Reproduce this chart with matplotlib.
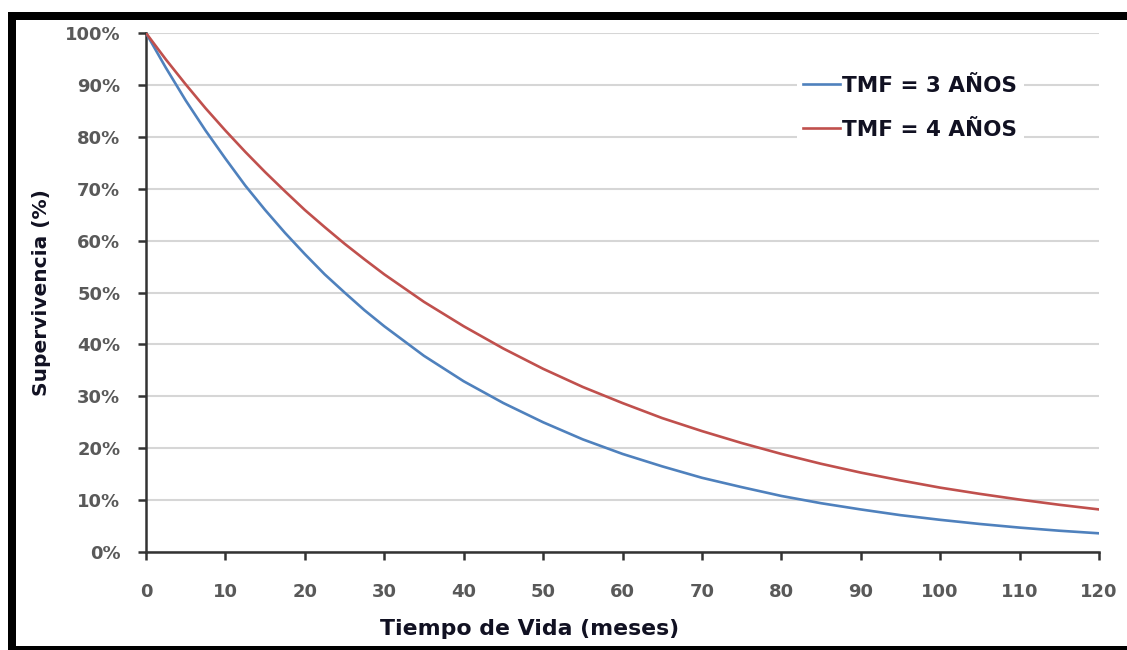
import matplotlib
matplotlib.use("Agg")
import matplotlib.pyplot as plt
from matplotlib.patches import Rectangle
from matplotlib.ticker import FuncFormatter

# months and survival (%)
months = [0, 2.5, 5, 7.5, 10, 12.5, 15, 17.5, 20, 22.5, 25, 27.5, 30,
          35, 40, 45, 50, 55, 60, 65, 70, 75, 80, 85, 90, 95, 100,
          105, 110, 115, 120]
tmf3 = [100, 93.3, 87, 81.2, 75.8, 70.6, 65.9, 61.5, 57.4, 53.5, 50, 46.6, 43.5,
        37.8, 32.9, 28.7, 25, 21.7, 18.9, 16.5, 14.3, 12.5, 10.8, 9.4, 8.2, 7.1, 6.2,
        5.4, 4.7, 4.1, 3.6]
tmf4 = [100, 94.9, 90.1, 85.5, 81.2, 77.1, 73.2, 69.5, 65.9, 62.6, 59.4, 56.4, 53.5,
        48.2, 43.5, 39.2, 35.3, 31.8, 28.7, 25.8, 23.3, 21, 18.9, 17, 15.3, 13.8, 12.4,
        11.2, 10.1, 9.1, 8.2]
labels = ["TMF = 3 AÑOS", "TMF = 4 AÑOS"]
x_ticks = list(range(0, 121, 10))
y_ticks = list(range(0, 101, 10))

W, H = 1127, 650
plt.rcParams['font.family'] = ['DejaVu Sans']

fig = plt.figure(figsize=(W / 100, H / 100), dpi=100)
fig.patch.set_facecolor('white')


def px_rect(x0, y0, x1, y1):
    # rectangle given in pixel coords (origin top-left)
    return Rectangle((x0 / W, 1 - y1 / H), (x1 - x0) / W, (y1 - y0) / H,
                     transform=fig.transFigure, facecolor='black',
                     edgecolor='none', zorder=10)


fig.add_artist(px_rect(8, 12, W, 20))
fig.add_artist(px_rect(8, 12, 16, H))
fig.add_artist(px_rect(8, 646, W, H))

ax = fig.add_axes([146 / W, 1 - 552 / H, (1099 - 146) / W, (552 - 33) / H])

ax.plot(months, tmf3, color='#4F81BD', linewidth=1.9, label=labels[0], zorder=3)
ax.plot(months, tmf4, color='#C0504D', linewidth=1.9, label=labels[1], zorder=3)

ax.set_xlim(0, 120)
ax.set_ylim(0, 100)
ax.set_xticks(x_ticks)
ax.set_yticks(y_ticks)
ax.yaxis.set_major_formatter(FuncFormatter(lambda v, p: f"{int(v)}%"))

ax.grid(axis='y', color='#D6D6D6', linewidth=1.5, zorder=0)
ax.set_axisbelow(True)
for s in ['top', 'right']:
    ax.spines[s].set_visible(False)
for s in ['left', 'bottom']:
    ax.spines[s].set_color('#333333')
    ax.spines[s].set_linewidth(1.8)
    ax.spines[s].set_clip_on(False)

ax.tick_params(axis='both', direction='out', length=5.5, width=1.8,
               color='#333333', labelcolor='#595959', labelsize=13)
ax.tick_params(axis='x', pad=17)
ax.tick_params(axis='y', pad=13)
for t in ax.get_xticklabels() + ax.get_yticklabels():
    t.set_fontweight('bold')

ax.set_xlabel("Tiempo de Vida (meses)", fontsize=15.8, fontweight='bold', color='#111122')
ax.set_ylabel("Supervivencia (%)", fontsize=14.5, fontweight='bold', color='#111122')
ax.xaxis.set_label_coords(0.402, -0.129)
ax.yaxis.set_label_coords(-0.0995, 0.5)

leg = ax.legend(loc='upper left', bbox_to_anchor=(0.683, 0.93), frameon=True,
                facecolor='white', edgecolor='none', framealpha=1, fancybox=False,
                handlelength=1.7, handletextpad=0.1, labelspacing=1.12,
                borderpad=0.3, borderaxespad=0,
                prop={'weight': 'bold', 'size': 15.5})
for t in leg.get_texts():
    t.set_color('#111122')

fig.savefig("out.png", dpi=100)
